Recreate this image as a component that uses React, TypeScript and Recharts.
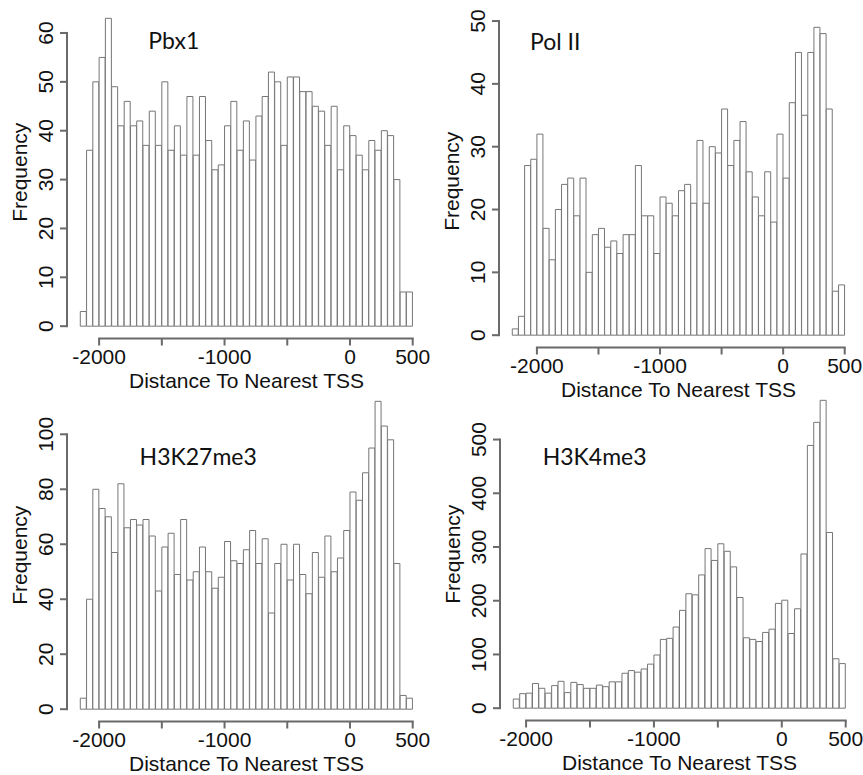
import { BarChart, Bar, XAxis, YAxis } from "recharts"

// histogram bins are 50 wide and all end at 500
const BIN_WIDTH = 50

const X_TICKS = [-2000, -1500, -1000, -500, 0, 500]
const X_TICK_LABELS = ["-2000", "", "-1000", "", "0", "500"]

const PBX1_START = -2150
const PBX1_COUNTS = [
  3, 36, 50, 55, 63, 49, 41, 46, 41, 42, 37, 44, 37, 50, 36, 41, 35, 47, 35, 47, 38, 32, 33, 41, 46, 36,
  42, 34, 43, 47, 52, 50, 37, 51, 51, 48, 48, 45, 44, 37, 45, 32, 41, 39, 35, 32, 38, 36, 40, 39, 30, 7, 7,
]
const PBX1_Y_TICKS = [0, 10, 20, 30, 40, 50, 60]

const POL2_START = -2200
const POL2_COUNTS = [
  1, 3, 27, 28, 32, 17, 12, 20, 24, 25, 19, 25, 10, 16, 17, 14, 15, 13, 16, 16, 27, 19, 19, 13, 22, 21, 19,
  23, 24, 21, 31, 21, 30, 29, 36, 27, 31, 34, 26, 22, 19, 26, 18, 32, 25, 37, 45, 35, 45, 49, 48, 36, 7, 8,
]
const POL2_Y_TICKS = [0, 10, 20, 30, 40, 50]

const K27_START = -2150
const K27_COUNTS = [
  4, 40, 80, 73, 70, 57, 82, 66, 69, 67, 69, 63, 43, 59, 64, 49, 69, 47, 50, 59, 50, 44, 48, 61, 54, 53,
  58, 65, 53, 62, 35, 53, 60, 47, 60, 49, 42, 57, 48, 63, 50, 55, 65, 79, 76, 86, 95, 112, 103, 98, 53, 5, 4,
]
const K27_Y_TICKS = [0, 20, 40, 60, 80, 100]

const K4_START = -2100
const K4_COUNTS = [
  17, 27, 28, 46, 37, 28, 42, 50, 29, 48, 44, 37, 37, 43, 40, 49, 49, 65, 70, 67, 73, 82, 99, 128, 130, 151,
  182, 213, 211, 248, 297, 275, 306, 292, 263, 206, 131, 128, 124, 141, 147, 195, 201, 139, 185, 287, 489,
  532, 573, 327, 92, 83,
]
const K4_Y_TICKS = [0, 100, 200, 300, 400, 500]

const PLOT_W = 359
const PLOT_H = 332.5
const Y_AXIS_W = 70
const TOP_GAP = 8
const RIGHT_GAP = 6
const X_AXIS_H = 60
const PLOT_BOTTOM = TOP_GAP + PLOT_H
const TICK_LEN = 7
const LINE_W = 2
// R pads each axis range by 4%; the bars cover 1/1.08 of the plot width
const BIN_PAD = (PLOT_W * 0.04) / 1.08

const AXIS_COLOR = "#6a6a6a"
const BAR_COLOR = "#767676"
const TEXT_COLOR = "#111"
const SANS = "'Liberation Sans', Arial, sans-serif"

function XTick({ x, payload }: any) {
  const label = X_TICK_LABELS[X_TICKS.indexOf(payload.value)]
  if (!label) return <g />
  return (
    <text x={x} y={PLOT_BOTTOM + 25} textAnchor="middle" fontSize={21} fontFamily={SANS} fill={TEXT_COLOR}>
      {label}
    </text>
  )
}

function YTick({ y, payload }: any) {
  const x = Y_AXIS_W - 14
  return (
    <text
      x={x}
      y={y}
      transform={`rotate(-90 ${x} ${y})`}
      textAnchor="middle"
      fontSize={21}
      fontFamily={SANS}
      fill={TEXT_COLOR}
    >
      {payload.value}
    </text>
  )
}

type PanelProps = {
  name: string
  start: number
  counts: number[]
  yTicks: number[]
  plotLeft: number
  plotTop: number
  nameX: number
  nameY: number
}

function Histogram({ name, start, counts, yTicks, plotLeft, plotTop, nameX, nameY }: PanelProps) {
  const data = counts.map((count, i) => ({ bin: start + i * BIN_WIDTH, count }))
  const end = start + counts.length * BIN_WIDTH
  const xPad = 0.04 * (end - start)
  const xDomain = [start - xPad, end + xPad]
  const yMax = Math.max(...counts)
  const yDomain = [-0.04 * yMax, 1.04 * yMax]
  const left = plotLeft - Y_AXIS_W
  const top = plotTop - TOP_GAP

  // R style axes: the lines only run between the outer ticks
  const xPx = (v: number) => Y_AXIS_W + ((v - xDomain[0]) / (xDomain[1] - xDomain[0])) * PLOT_W
  const yPx = (v: number) => TOP_GAP + ((yDomain[1] - v) / (yDomain[1] - yDomain[0])) * PLOT_H
  const xLineStart = xPx(X_TICKS[0])
  const xLineEnd = xPx(X_TICKS[X_TICKS.length - 1])
  const yLineTop = yPx(yTicks[yTicks.length - 1])
  const yLineBottom = yPx(yTicks[0])
  const half = LINE_W / 2

  return (
    <div style={{ position: "absolute", left, top }}>
      <BarChart
        width={Y_AXIS_W + PLOT_W + RIGHT_GAP}
        height={TOP_GAP + PLOT_H + X_AXIS_H}
        data={data}
        margin={{ top: TOP_GAP, right: RIGHT_GAP, left: 0, bottom: 0 }}
        barCategoryGap={0}
        barGap={0}
      >
        <XAxis xAxisId="bins" dataKey="bin" hide padding={{ left: BIN_PAD, right: BIN_PAD }} />
        <XAxis
          xAxisId="num"
          dataKey="bin"
          type="number"
          domain={xDomain}
          allowDataOverflow
          ticks={X_TICKS}
          interval={0}
          tick={<XTick />}
          tickSize={0}
          tickMargin={0}
          tickLine={false}
          axisLine={false}
          height={X_AXIS_H}
        />
        <YAxis
          type="number"
          domain={yDomain}
          allowDataOverflow
          ticks={yTicks}
          interval={0}
          tick={<YTick />}
          tickSize={0}
          tickMargin={0}
          tickLine={false}
          axisLine={false}
          width={Y_AXIS_W}
        />
        <Bar xAxisId="bins" dataKey="count" fill="#fff" stroke={BAR_COLOR} strokeWidth={1} isAnimationActive={false} />
        <rect
          x={xLineStart - half}
          y={PLOT_BOTTOM - half}
          width={xLineEnd - xLineStart + LINE_W}
          height={LINE_W}
          fill={AXIS_COLOR}
        />
        {X_TICKS.map((v) => (
          <rect key={`xt${v}`} x={xPx(v) - half} y={PLOT_BOTTOM} width={LINE_W} height={TICK_LEN} fill={AXIS_COLOR} />
        ))}
        <rect
          x={Y_AXIS_W - half}
          y={yLineTop - half}
          width={LINE_W}
          height={yLineBottom - yLineTop + LINE_W}
          fill={AXIS_COLOR}
        />
        {yTicks.map((v) => (
          <rect key={`yt${v}`} x={Y_AXIS_W - TICK_LEN} y={yPx(v) - half} width={TICK_LEN} height={LINE_W} fill={AXIS_COLOR} />
        ))}
        <text
          x={nameX - left}
          y={nameY - top}
          fontSize={23}
          fontFamily="Lato, 'Open Sans', sans-serif"
          fill={TEXT_COLOR}
        >
          {name}
        </text>
        <text
          x={Y_AXIS_W - 40.5}
          y={TOP_GAP + PLOT_H / 2}
          transform={`rotate(-90 ${Y_AXIS_W - 40.5} ${TOP_GAP + PLOT_H / 2})`}
          textAnchor="middle"
          fontSize={21}
          fontFamily={SANS}
          fill={TEXT_COLOR}
        >
          Frequency
        </text>
        <text
          x={Y_AXIS_W + PLOT_W / 2}
          y={PLOT_BOTTOM + 49}
          textAnchor="middle"
          fontSize={21}
          fontFamily={SANS}
          fill={TEXT_COLOR}
        >
          Distance To Nearest TSS
        </text>
      </BarChart>
    </div>
  )
}

export default function App() {
  return (
    <div style={{ position: "absolute", left: 0, top: 0, width: 863, height: 775, background: "#fff", overflow: "hidden" }}>
      <Histogram name="Pbx1" start={PBX1_START} counts={PBX1_COUNTS} yTicks={PBX1_Y_TICKS} plotLeft={66.7} plotTop={6.2} nameX={148} nameY={49.5} />
      <Histogram name="Pol II" start={POL2_START} counts={POL2_COUNTS} yTicks={POL2_Y_TICKS} plotLeft={499} plotTop={14.8} nameX={530} nameY={50} />
      <Histogram name="H3K27me3" start={K27_START} counts={K27_COUNTS} yTicks={K27_Y_TICKS} plotLeft={66.7} plotTop={389.2} nameX={139.3} nameY={465} />
      <Histogram name="H3K4me3" start={K4_START} counts={K4_COUNTS} yTicks={K4_Y_TICKS} plotLeft={500} plotTop={387.6} nameX={542.7} nameY={465} />
    </div>
  )
}
